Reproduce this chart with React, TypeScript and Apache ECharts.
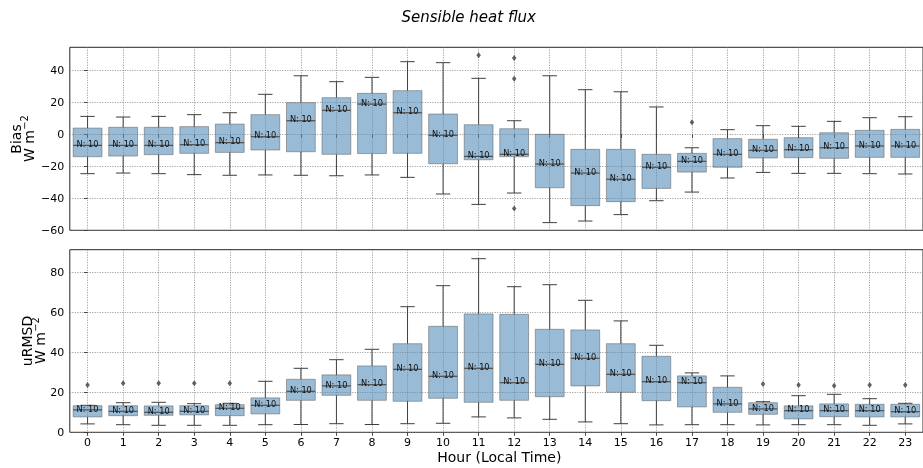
import React, { useEffect, useRef } from "react";
import * as echarts from "echarts";

const hours = [0, 1, 2, 3, 4, 5, 6, 7, 8, 9, 10, 11, 12, 13, 14, 15, 16, 17, 18, 19, 20, 21, 22, 23];
const counts = [10, 10, 10, 10, 10, 10, 10, 10, 10, 10, 10, 10, 10, 10, 10, 10, 10, 10, 10, 10, 10, 10, 10, 10];

// Bias (W m-2)
const biasLow = [-24.6, -24.2, -24.6, -25.2, -25.6, -25.4, -25.6, -25.9, -25.4, -26.9, -37.3, -43.8, -36.7, -55.2, -54.2, -50.2, -41.5, -36.1, -27.3, -23.8, -24.4, -24.4, -24.6, -24.8];
const biasQ1 = [-14.0, -13.6, -12.7, -11.9, -11.3, -9.8, -10.9, -12.5, -12.0, -11.9, -18.4, -15.9, -14.0, -33.4, -44.6, -42.1, -33.8, -23.6, -20.6, -14.8, -14.6, -15.0, -14.4, -14.4];
const biasMed = [-6.9, -6.9, -6.9, -6.5, -5.2, -1.5, 8.5, 15.0, 18.9, 13.5, -0.6, -13.8, -12.5, -18.6, -24.2, -28.1, -20.6, -16.9, -12.5, -10.0, -9.6, -8.4, -7.3, -7.3];
const biasQ3 = [3.9, 4.4, 4.4, 4.8, 6.4, 12.3, 19.8, 22.9, 25.6, 27.3, 12.7, 6.0, 3.5, 0.0, -9.4, -9.4, -12.5, -11.9, -2.7, -3.1, -2.1, 1.0, 2.5, 3.1];
const biasHigh = [11.2, 10.8, 11.2, 12.3, 13.5, 25.0, 36.6, 32.9, 35.6, 45.4, 44.8, 35.0, 8.5, 36.6, 27.9, 26.6, 17.1, -8.4, 2.9, 5.4, 5.0, 8.1, 10.4, 11.0];
const biasOutliers = [[11, 49.4], [12, 47.7], [12, 34.8], [12, -46.3], [17, 7.5]];

// uRMSD (W m-2)
const rmsdLow = [4.2, 3.8, 3.5, 3.5, 3.5, 3.8, 3.9, 4.3, 3.9, 4.3, 4.5, 7.7, 7.2, 6.5, 5.2, 4.3, 3.7, 3.8, 3.8, 3.7, 3.8, 3.8, 3.5, 4.2];
const rmsdQ1 = [7.7, 8.3, 8.5, 8.7, 8.3, 9.2, 16.0, 18.5, 16.0, 15.5, 17.0, 15.0, 16.0, 17.8, 23.2, 20.0, 15.8, 12.7, 10.0, 9.0, 6.7, 7.8, 7.7, 7.7];
const rmsdMed = [11.2, 10.5, 10.0, 10.5, 12.0, 13.5, 20.5, 23.2, 23.8, 31.5, 28.0, 32.0, 24.8, 34.0, 37.0, 29.0, 25.3, 24.8, 14.2, 11.7, 10.8, 10.8, 10.8, 10.3];
const rmsdQ3 = [13.3, 13.3, 13.2, 13.3, 13.8, 17.2, 26.5, 28.7, 33.2, 44.3, 53.0, 59.2, 59.0, 51.5, 51.2, 44.3, 38.0, 28.2, 22.5, 14.8, 13.2, 14.2, 14.0, 14.0];
const rmsdHigh = [13.5, 14.8, 15.0, 14.3, 14.5, 25.5, 32.0, 36.3, 41.5, 62.8, 73.3, 86.8, 72.8, 73.8, 66.0, 55.7, 43.5, 29.7, 28.2, 15.3, 18.3, 19.0, 16.8, 14.5];
const rmsdOutliers = [[0, 23.7], [1, 24.5], [2, 24.5], [3, 24.5], [4, 24.5], [19, 24.2], [20, 23.7], [21, 23.3], [22, 23.7], [23, 23.7]];

const biasTicks = [-60, -40, -20, 0, 20, 40];
const rmsdTicks = [0, 20, 40, 60, 80];

const FONT = "DejaVu Sans";

function renderBox(params: any, api: any) {
  const x = api.value(0);
  const lo = api.coord([x, api.value(1)]);
  const q1 = api.coord([x, api.value(2)]);
  const md = api.coord([x, api.value(3)]);
  const q3 = api.coord([x, api.value(4)]);
  const hi = api.coord([x, api.value(5)]);
  const bw = api.size([0.81, 0])[0];
  const cw = bw / 2;
  const cx = lo[0];
  const ls = { stroke: "#3f3f3f", lineWidth: 1 };
  return {
    type: "group",
    children: [
      { type: "line", shape: { x1: cx, y1: q1[1], x2: cx, y2: lo[1] }, style: ls },
      { type: "line", shape: { x1: cx, y1: q3[1], x2: cx, y2: hi[1] }, style: ls },
      { type: "line", shape: { x1: cx - cw / 2, y1: lo[1], x2: cx + cw / 2, y2: lo[1] }, style: ls },
      { type: "line", shape: { x1: cx - cw / 2, y1: hi[1], x2: cx + cw / 2, y2: hi[1] }, style: ls },
      {
        type: "rect",
        shape: { x: cx - bw / 2, y: q3[1], width: bw, height: q1[1] - q3[1] },
        style: { fill: "rgba(80,138,183,0.58)", stroke: "rgba(90,90,90,0.5)", lineWidth: 1 },
      },
      { type: "line", shape: { x1: cx - bw / 2, y1: md[1], x2: cx + bw / 2, y2: md[1] }, style: { stroke: "#4d4d4d", lineWidth: 1.2 } },
      {
        type: "text",
        style: {
          text: "N: " + api.value(6),
          x: cx,
          y: md[1] + 2.6,
          align: "center",
          verticalAlign: "bottom",
          fontSize: 8.2,
          fontFamily: FONT,
          fill: "#111",
        },
      },
    ],
  };
}

function boxData(lo: number[], q1: number[], md: number[], q3: number[], hi: number[]) {
  return hours.map((h, i) => [h, lo[i], q1[i], md[i], q3[i], hi[i], counts[i]]);
}

function unitLabel(x: number, y: number) {
  return {
    type: "group",
    x,
    y,
    rotation: Math.PI / 2,
    children: [
      {
        type: "text",
        x: -23,
        y: 0,
        style: { text: "W m", align: "left", verticalAlign: "middle", fontSize: 14, fontFamily: FONT, fill: "#000" },
      },
      {
        type: "text",
        x: 9.3,
        y: -4.5,
        style: { text: "\u22122", align: "left", verticalAlign: "middle", fontSize: 9.8, fontFamily: FONT, fill: "#000" },
      },
    ],
  };
}

export default function App() {
  const ref = useRef<HTMLDivElement>(null);
  useEffect(() => {
    if (!ref.current) return;
    const chart = echarts.init(ref.current, undefined, { renderer: "svg" });
    const splitLine = { show: true, lineStyle: { type: [1, 1.5], color: "#777", width: 0.8 } };
    const tick = { show: true, length: 3.5, lineStyle: { color: "#333", width: 0.9 } };
    const xAxisBase = {
      type: "value",
      min: -0.5,
      max: 23.5,
      axisLine: { show: false },
      splitLine,
    };
    chart.setOption({
      animation: false,
      grid: [
        { left: 69.8, top: 47.3, width: 859.1, height: 183, show: true, borderColor: "#262626", borderWidth: 1, backgroundColor: "transparent" },
        { left: 69.8, top: 249.7, width: 859.1, height: 182.6, show: true, borderColor: "#262626", borderWidth: 1, backgroundColor: "transparent" },
      ],
      xAxis: [
        {
          ...xAxisBase,
          gridIndex: 0,
          axisTick: { ...tick, customValues: hours },
          axisLabel: { show: false, customValues: hours },
        },
        {
          ...xAxisBase,
          gridIndex: 1,
          axisTick: { ...tick, customValues: hours },
          axisLabel: { show: true, customValues: hours, color: "#000", fontSize: 11, fontFamily: FONT, margin: 5 },
        },
      ],
      yAxis: [
        {
          type: "value",
          gridIndex: 0,
          min: -60,
          max: 54.4,
          axisLine: { show: false },
          axisTick: { ...tick, customValues: biasTicks },
          axisLabel: {
            customValues: biasTicks,
            color: "#000",
            fontSize: 11,
            fontFamily: FONT,
            margin: 5.5,
            formatter: (v: number) => (v < 0 ? "\u2212" + Math.abs(v) : String(v)),
          },
          splitLine,
        },
        {
          type: "value",
          gridIndex: 1,
          min: 0,
          max: 91.3,
          axisLine: { show: false },
          axisTick: { ...tick, customValues: rmsdTicks },
          axisLabel: { customValues: rmsdTicks, color: "#000", fontSize: 11, fontFamily: FONT, margin: 5.5 },
          splitLine,
        },
      ],
      series: [
        {
          type: "custom",
          xAxisIndex: 0,
          yAxisIndex: 0,
          renderItem: renderBox,
          encode: { x: 0, y: [1, 2, 3, 4, 5] },
          data: boxData(biasLow, biasQ1, biasMed, biasQ3, biasHigh),
          clip: false,
        },
        {
          type: "scatter",
          xAxisIndex: 0,
          yAxisIndex: 0,
          symbol: "diamond",
          symbolSize: [4.5, 6],
          itemStyle: { color: "#3c3c3c" },
          data: biasOutliers,
        },
        {
          type: "custom",
          xAxisIndex: 1,
          yAxisIndex: 1,
          renderItem: renderBox,
          encode: { x: 0, y: [1, 2, 3, 4, 5] },
          data: boxData(rmsdLow, rmsdQ1, rmsdMed, rmsdQ3, rmsdHigh),
          clip: false,
        },
        {
          type: "scatter",
          xAxisIndex: 1,
          yAxisIndex: 1,
          symbol: "diamond",
          symbolSize: [4.5, 6],
          itemStyle: { color: "#3c3c3c" },
          data: rmsdOutliers,
        },
      ],
      graphic: [
        {
          type: "text",
          x: 468.7,
          y: 17,
          style: { text: "Sensible heat flux", align: "center", verticalAlign: "middle", fontSize: 15, fontStyle: "italic", fontFamily: FONT, fill: "#000" },
        },
        {
          type: "text",
          x: 499.3,
          y: 457,
          style: { text: "Hour (Local Time)", align: "center", verticalAlign: "middle", fontSize: 14, fontFamily: FONT, fill: "#000" },
        },
        {
          type: "text",
          x: 15.5,
          y: 139,
          rotation: Math.PI / 2,
          style: { text: "Bias", align: "center", verticalAlign: "middle", fontSize: 14, fontFamily: FONT, fill: "#000" },
        },
        unitLabel(29, 139),
        {
          type: "text",
          x: 26.5,
          y: 341,
          rotation: Math.PI / 2,
          style: { text: "uRMSD", align: "center", verticalAlign: "middle", fontSize: 14, fontFamily: FONT, fill: "#000" },
        },
        unitLabel(40, 341),
      ],
    });
    return () => chart.dispose();
  }, []);
  return <div ref={ref} style={{ position: "fixed", left: 0, top: 0, width: 923, height: 468 }} />;
}
